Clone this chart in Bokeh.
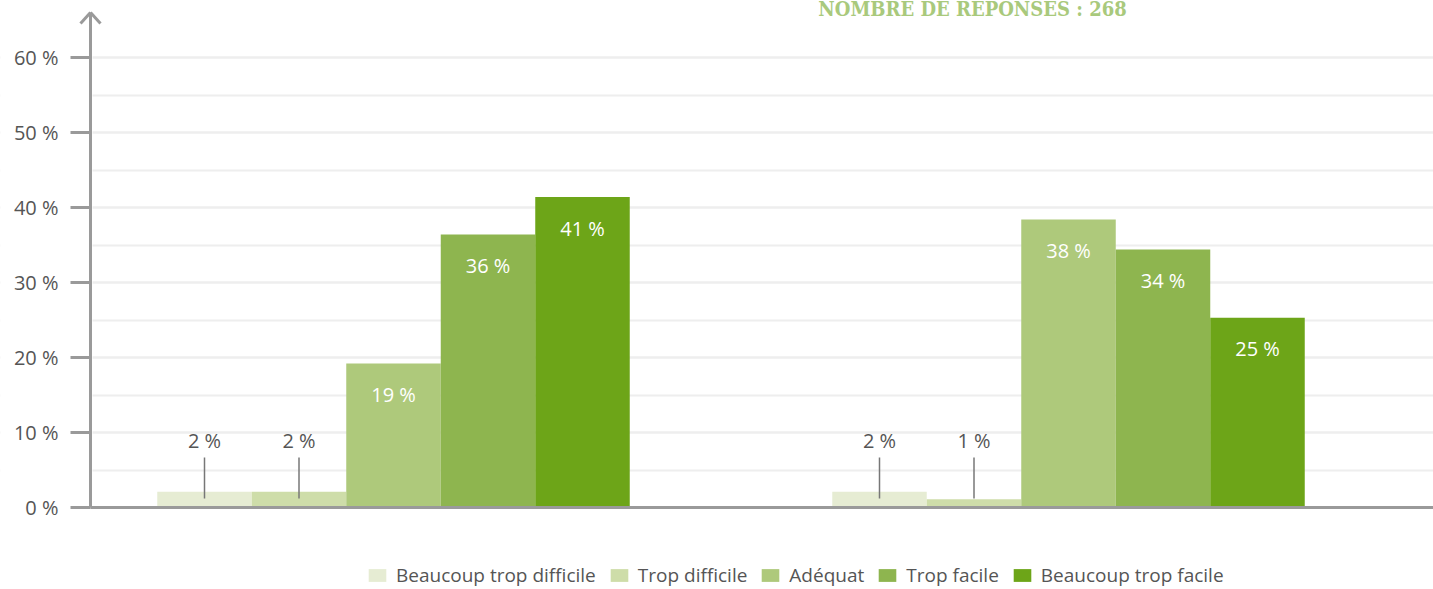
from bokeh.plotting import figure
from bokeh.models import (ColumnDataSource, Range1d, SingleIntervalTicker, FixedTicker,
                          PrintfTickFormatter, Legend, LegendItem, Label, BoxAnnotation)
from bokeh.core.properties import value
from bokeh.embed import file_html
from bokeh.resources import INLINE

# ---------------- data ----------------
categories = ["Beaucoup trop difficile", "Trop difficile", "Adéquat",
              "Trop facile", "Beaucoup trop facile"]
group_pos = [0, 1]
group1_values = [2.1, 2.1, 19.2, 36.4, 41.4]
group2_values = [2.1, 1.1, 38.4, 34.4, 25.3]
y_ticks = [0, 10, 20, 30, 40, 50, 60]
title_text = "NOMBRE DE RÉPONSES : 268"

colors = ["#e6ecd3", "#cedda9", "#aec97b", "#8eb54f", "#6da518"]

# ---------------- layout constants ----------------
FONT = "Open Sans"
W, H = 1433, 589
PX_X = 675.0          # pixels per group unit
PX_Y = 7.5            # pixels per percent
G0 = 393              # pixel of first group centre
BASE = 507            # pixel of 0 %
AXIS_PX = 90          # pixel of y axis
bar_w = 0.14
GRAY = "#9a9a9a"

x0 = -G0 / PX_X
x1 = (W - G0) / PX_X
y0 = -(H - BASE) / PX_Y
y1 = BASE / PX_Y
axis_x = (AXIS_PX - G0) / PX_X
y_top = 66.0

p = figure(width=W, height=H, output_backend="svg", toolbar_location=None,
           x_range=Range1d(x0, x1), y_range=Range1d(y0, y1),
           min_border_left=0, min_border_right=0, min_border_top=0,
           min_border_bottom=0, outline_line_color=None,
           styles={"margin": "0px"})
p.background_fill_color = "white"

# grid
p.xgrid.visible = False
p.ygrid.ticker = SingleIntervalTicker(interval=10, num_minor_ticks=2)
p.ygrid.grid_line_color = "#eeeeee"
p.ygrid.grid_line_width = 2
p.ygrid.minor_grid_line_color = "#eeeeee"
p.ygrid.minor_grid_line_width = 2
p.ygrid.bounds = (1, 61)
# hide the grid left of the y axis
p.add_layout(BoxAnnotation(right=axis_x + 2 / PX_X, fill_color="white", fill_alpha=1,
                           line_color=None, level="underlay"))

# y axis
ya = p.yaxis[0]
ya.fixed_location = axis_x
ya.ticker = FixedTicker(ticks=y_ticks)
ya.formatter = PrintfTickFormatter(format="%d %%")
ya.bounds = (0, y_top)
ya.axis_line_color = GRAY
ya.axis_line_width = 3
ya.major_tick_line_color = GRAY
ya.major_tick_line_width = 3
ya.major_tick_out = 20
ya.major_tick_in = 0
ya.minor_tick_line_color = None
ya.major_label_text_font = FONT
ya.major_label_text_font_size = "20px"
ya.major_label_text_color = "#555555"
ya.major_label_standoff = 12

# x axis (baseline)
xa = p.xaxis[0]
xa.fixed_location = 0
xa.bounds = (axis_x, x1)
xa.ticker = FixedTicker(ticks=[])
xa.axis_line_color = GRAY
xa.axis_line_width = 3
xa.major_tick_line_color = None
xa.minor_tick_line_color = None
xa.major_label_text_font_size = "0px"

# arrow head on the y axis
hx = 10 / PX_X
hy = 11 / PX_Y
p.segment(x0=[axis_x - hx, axis_x + hx], y0=[y_top - hy, y_top - hy],
          x1=[axis_x, axis_x], y1=[y_top, y_top], line_color=GRAY, line_width=3)

# bars
items = []
for i, (cat, col) in enumerate(zip(categories, colors)):
    xs = [g + (i - 2) * bar_w for g in group_pos]
    vals = [group1_values[i], group2_values[i]]
    src = ColumnDataSource(dict(x=xs, top=vals))
    r = p.vbar(x="x", top="top", width=bar_w, bottom=0, source=src,
               fill_color=col, line_color=None)
    items.append(LegendItem(label=cat, renderers=[r]))

    big = [k for k, v in enumerate(vals) if v >= 5]
    small = [k for k, v in enumerate(vals) if v < 5]
    if big:
        s = ColumnDataSource(dict(x=[xs[k] for k in big], y=[vals[k] for k in big],
                                  t=[f"{round(vals[k])} %" for k in big]))
        p.text(x="x", y="y", text="t", source=s, text_align="center",
               text_baseline="middle", y_offset=31, text_color="white",
               text_font=value(FONT), text_font_size="20px")
    if small:
        n = len(small)
        s = ColumnDataSource(dict(x=[xs[k] for k in small],
                                  t=[f"{round(vals[k])} %" for k in small]))
        # leader lines and labels sit at a fixed height above the baseline
        p.segment(x0=[xs[k] for k in small], y0=[9 / PX_Y] * n,
                  x1=[xs[k] for k in small], y1=[50 / PX_Y] * n,
                  line_color="#777777", line_width=1.5)
        p.text(x="x", y=0, text="t", source=s, text_align="center",
               text_baseline="middle", y_offset=-67, text_color="#555555",
               text_font=value(FONT), text_font_size="20px")

# title at the top edge
p.add_layout(Label(x=972, y=H - 8, x_units="screen", y_units="screen",
                   text=title_text, text_align="center", text_baseline="alphabetic",
                   text_font="DejaVu Serif Condensed", text_font_style="bold",
                   text_font_size="20px", text_color="#a9c97c"))

legend = Legend(items=items, orientation="horizontal", location=(366, 1),
                glyph_width=22, glyph_height=16, label_standoff=8, spacing=12,
                label_text_font=FONT, label_text_font_size="19px",
                label_text_color="#555555", border_line_color=None,
                background_fill_alpha=0, padding=0, margin=0)
p.add_layout(legend, "center")

open("out.html", "w").write(file_html(p, INLINE))
